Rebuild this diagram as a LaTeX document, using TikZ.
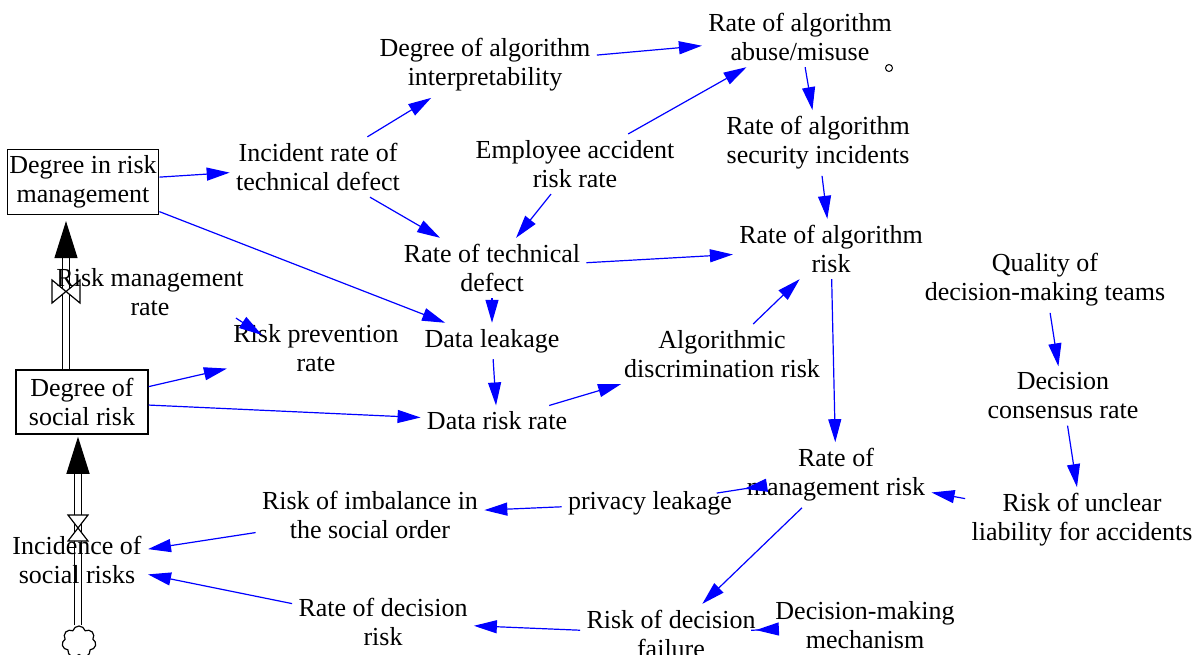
\documentclass[tikz,border=0pt]{standalone}
\usepackage{fontspec}
\setmainfont{Liberation Serif}
\usetikzlibrary{arrows.meta,shapes.symbols}

\begin{document}
\begin{tikzpicture}[x=0.5pt,y=-0.5pt,
  every node/.style={font=\fontsize{13}{14.5}\selectfont, align=center, inner sep=3pt},
  stock/.style={draw=black, line width=0.75pt, inner xsep=1pt},
  link/.style={draw=blue, line width=0.6pt, -{Triangle[length=11.5pt,width=6.5pt]}},
  pipe/.style={draw=black, line width=0.7pt, double, double distance=2.8pt},
  flowtip/.style={draw=black, line width=0.6pt, -{Triangle[length=18.5pt,width=11.5pt]}},
  valve/.style={draw=black, fill=white, line width=0.6pt}]
  \useasboundingbox (0,0) rectangle (1199,654);

  % stocks
  \node[stock, minimum width=73.5pt, minimum height=30pt] (drm) at (83,182) {Degree in risk\\management};
  \node[stock, minimum width=66pt, minimum height=32pt] (dsr) at (82,402) {Degree of\\social risk};

  % flows
  \coordinate (v1) at (66,291);
  \coordinate (v2) at (78,528);
  \node[cloud, draw, cloud puffs=7, line width=0.6pt, minimum width=17pt, minimum height=16pt] (src) at (79,642) {};
  \draw[pipe] (dsr.north -| v1) -- ([yshift=-10pt]drm.south -| v1);
  \draw[flowtip] ([yshift=-18pt]drm.south -| v1) -- ([yshift=-3pt]drm.south -| v1);
  \draw[pipe] (src.north -| v2) -- ([yshift=-10pt]dsr.south -| v2);
  \draw[flowtip] ([yshift=-16pt]dsr.south -| v2) -- ([yshift=-1pt]dsr.south -| v2);
  \draw[valve] (v1) ++(-14,-11) -- ++(0,23) -- ++(28,-23) -- ++(0,23) -- cycle;
  \draw[valve] (v2) ++(-10,-13) -- ++(20,0) -- ++(-20,26) -- ++(20,0) -- cycle;

  % variables
  \node (rmr) at (150,292) {Risk management\\rate};
  \node (isr) at (77,560) {Incidence of\\social risks};
  \node (inc) at (318,167) {Incident rate of\\technical defect};
  \node (dai) at (485,65) {Degree of algorithm\\interpretability};
  \node (abuse) at (800,37) {Rate of algorithm\\abuse/misuse};
  \node (emp) at (575,164) {Employee accident\\risk rate};
  \node (sec) at (818,143) {Rate of algorithm\\security incidents};
  \node (rtd) at (492,268) {Rate of technical\\defect};
  \node (rar) at (831,249) {Rate of algorithm\\risk};
  \node (qdt) at (1045,280) {Quality of\\decision-making teams};
  \node (rpr) at (316,348) {Risk prevention\\rate};
  \node (dl) at (492,341) {Data leakage};
  \node (adr) at (722,354) {Algorithmic\\discrimination risk};
  \node (drr) at (497,421) {Data risk rate};
  \node (dcr) at (1063,396) {Decision\\consensus rate};
  \node (rmk) at (836,475) {Rate of\\management risk};
  \node (ris) at (370,515) {Risk of imbalance in\\the social order};
  \node (pl) at (650,503) {privacy leakage};
  \node (rul) at (1082,520) {Risk of unclear\\liability for accidents};
  \node (rdr) at (383,622) {Rate of decision\\risk};
  \node (rdf) at (671,634) {Risk of decision\\failure};
  \node (dmm) at (865,625) {Decision-making\\mechanism};
  \node[circle, draw, line width=0.5pt, inner sep=0pt, minimum size=3.5pt] (ghost) at (889,68) {};

  % causal links
  \draw[link] (drm) -- (inc);
  \draw[link] (drm) -- (dl);
  \draw[link] (inc) -- (dai);
  \draw[link] (inc) -- (rtd);
  \draw[link] (dai) -- (abuse);
  \draw[link] (emp) -- (abuse);
  \draw[link] (emp) -- (rtd);
  \draw[link] (abuse) -- (sec);
  \draw[link] (sec) -- (rar);
  \draw[link] (rtd) -- (rar);
  \draw[link] (rtd) -- (dl);
  \draw[link] (rar) -- (rmk);
  \draw[link] (dsr) -- (rpr);
  \draw[link] (dsr) -- (drr);
  \draw[link] ([xshift=-7pt,yshift=2pt]rmr.south east) -- ([xshift=17.5pt,yshift=-8.5pt]rpr.north west);
  \draw[link] (dl) -- (drr);
  \draw[link] (drr) -- (adr);
  \draw[link] (adr) -- (rar);
  \draw[link] (qdt) -- (dcr);
  \draw[link] (dcr) -- (rul);
  \draw[link] (rul) -- (rmk);
  \draw[link, shorten <=-12pt, shorten >=3pt] (rmk) -- (pl);
  \draw[link] (pl) -- (ris);
  \draw[link] (ris) -- (isr);
  \draw[link] (rmk) -- (rdf);
  \draw[link, shorten <=-9pt, shorten >=-3pt] (dmm) -- (rdf);
  \draw[link] (rdf) -- (rdr);
  \draw[link] (rdr) -- (isr);
\end{tikzpicture}
\end{document}
